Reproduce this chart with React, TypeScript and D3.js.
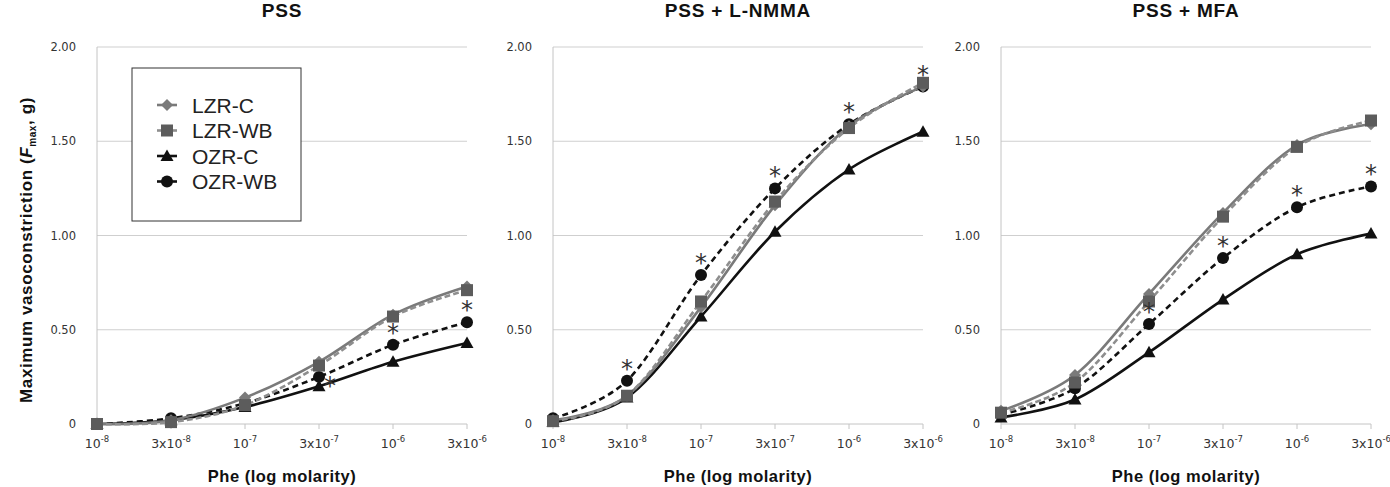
import React from 'react';
import * as d3 from 'd3';

// Phe concentrations (evenly spaced categories)
const categories = ['1e-8', '3e-8', '1e-7', '3e-7', '1e-6', '3e-6'];
const tickMantissa = ['', '3x', '', '3x', '', '3x'];
const tickExponent = ['-8', '-8', '-7', '-7', '-6', '-6'];
const yTicks = [0, 0.5, 1, 1.5, 2];

const panelTitles = ['PSS', 'PSS + L-NMMA', 'PSS + MFA'];

// PSS
const pssLzrC = [0.0, 0.02, 0.14, 0.33, 0.58, 0.73];
const pssLzrWB = [0.0, 0.01, 0.1, 0.31, 0.57, 0.71];
const pssOzrC = [0.0, 0.02, 0.09, 0.2, 0.33, 0.43];
const pssOzrWB = [0.0, 0.03, 0.11, 0.25, 0.42, 0.54];

// PSS + L-NMMA
const nmmaLzrC = [0.02, 0.15, 0.62, 1.16, 1.58, 1.79];
const nmmaLzrWB = [0.015, 0.15, 0.65, 1.18, 1.57, 1.81];
const nmmaOzrC = [0.01, 0.14, 0.57, 1.02, 1.35, 1.55];
const nmmaOzrWB = [0.03, 0.23, 0.79, 1.25, 1.59, 1.79];

// PSS + MFA
const mfaLzrC = [0.07, 0.26, 0.69, 1.12, 1.48, 1.59];
const mfaLzrWB = [0.06, 0.22, 0.65, 1.1, 1.47, 1.61];
const mfaOzrC = [0.035, 0.13, 0.38, 0.66, 0.9, 1.01];
const mfaOzrWB = [0.05, 0.19, 0.53, 0.88, 1.15, 1.26];

// significance (*) on OZR-WB, by category index
const pssSig = [3, 4, 5];
const nmmaSig = [1, 2, 3, 4, 5];
const mfaSig = [2, 3, 4, 5];

const seriesNames = ['LZR-C', 'LZR-WB', 'OZR-C', 'OZR-WB'];

const panels = [
  { title: panelTitles[0], values: [pssLzrC, pssLzrWB, pssOzrC, pssOzrWB], sig: pssSig },
  { title: panelTitles[1], values: [nmmaLzrC, nmmaLzrWB, nmmaOzrC, nmmaOzrWB], sig: nmmaSig },
  { title: panelTitles[2], values: [mfaLzrC, mfaLzrWB, mfaOzrC, mfaOzrWB], sig: mfaSig },
];

const styles = [
  { stroke: '#7a7a7a', dash: 'none', fill: '#7a7a7a', marker: 'diamond' },
  { stroke: '#8e8e8e', dash: '6,3', fill: '#5c5c5c', marker: 'square' },
  { stroke: '#111', dash: 'none', fill: '#111', marker: 'triangle' },
  { stroke: '#111', dash: '6,4', fill: '#111', marker: 'circle' },
];

// draw order: OZR first, then LZR on top
const drawOrder = [2, 3, 0, 1];

const Marker = ({ type, x, y, fill }: { type: string; x: number; y: number; fill: string }) => {
  if (type === 'diamond') {
    return <path d={`M${x},${y - 6}L${x + 6},${y}L${x},${y + 6}L${x - 6},${y}Z`} fill={fill} />;
  }
  if (type === 'square') {
    return <rect x={x - 6} y={y - 6} width={12} height={12} fill={fill} />;
  }
  if (type === 'triangle') {
    return <path d={`M${x},${y - 6.5}L${x + 6.5},${y + 5}L${x - 6.5},${y + 5}Z`} fill={fill} />;
  }
  return <circle cx={x} cy={y} r={6} fill={fill} />;
};

const Panel = ({ panel, left, showLegend }: { panel: any; left: number; showLegend: boolean }) => {
  const plotW = 370;
  const top = 47;
  const bottom = 424;
  const x = d3.scalePoint<string>().domain(categories).range([0, plotW]);
  const y = d3.scaleLinear().domain([0, 2]).range([bottom, top]);
  const line = d3
    .line<number>()
    .x((_, i) => x(categories[i]) as number)
    .y((d) => y(d))
    .curve(d3.curveCardinal);

  return (
    <g transform={`translate(${left},0)`}>
      <text
        x={plotW / 2}
        y={17}
        textAnchor="middle"
        style={{ fontFamily: 'Liberation Sans, Arial, sans-serif', fontWeight: 'bold', fontSize: 19, letterSpacing: 0.8 }}
        fill="#111"
      >
        {panel.title}
      </text>

      {yTicks.map((t) => (
        <g key={t}>
          {t > 0 && <line x1={0} x2={plotW} y1={y(t)} y2={y(t)} stroke="#cfcfcf" strokeWidth={1} />}
          <text
            x={-21}
            y={y(t)}
            dy="0.35em"
            textAnchor="end"
            style={{ fontFamily: 'DejaVu Sans, sans-serif', fontSize: 11.5 }}
            fill="#333"
          >
            {t === 0 ? '0' : d3.format('.2f')(t)}
          </text>
        </g>
      ))}
      <line x1={0} x2={0} y1={top} y2={bottom} stroke="#c4c4c4" strokeWidth={1} />
      <line x1={0} x2={plotW} y1={bottom} y2={bottom} stroke="#c4c4c4" strokeWidth={1} />

      {categories.map((c, i) => (
        <g key={c} transform={`translate(${x(c)},0)`}>
          <line y1={bottom} y2={bottom + 5} stroke="#c4c4c4" />
          <text
            y={bottom + 24}
            textAnchor="middle"
            style={{ fontFamily: 'DejaVu Sans, sans-serif', fontSize: 12.5 }}
            fill="#333"
          >
            {tickMantissa[i]}10
            <tspan dy={-6} style={{ fontSize: 8.5 }}>
              {tickExponent[i]}
            </tspan>
          </text>
        </g>
      ))}

      <text
        x={plotW / 2}
        y={482}
        textAnchor="middle"
        style={{ fontFamily: 'Liberation Sans, Arial, sans-serif', fontWeight: 'bold', fontSize: 16.5, letterSpacing: 0.5 }}
        fill="#111"
      >
        Phe (log molarity)
      </text>

      {drawOrder.map((s) => (
        <path
          key={`l${s}`}
          d={line(panel.values[s]) as string}
          fill="none"
          stroke={styles[s].stroke}
          strokeWidth={2.6}
          strokeDasharray={styles[s].dash}
        />
      ))}
      {drawOrder.map((s) => (
        <g key={`m${s}`}>
          {panel.values[s].map((v: number, i: number) => (
            <Marker key={i} type={styles[s].marker} x={x(categories[i]) as number} y={y(v)} fill={styles[s].fill} />
          ))}
        </g>
      ))}

      {panel.sig.map((i: number) => {
        const v = panel.values[3][i];
        // first PSS asterisk sits to the lower right of its point
        const offRight = panel.title === 'PSS' && i === 3;
        const cx = (x(categories[i]) as number) + (offRight ? 11 : 0);
        const cy = y(v) + (offRight ? 8 : -13);
        return (
          <text
            key={`s${i}`}
            x={cx}
            y={cy + 9}
            textAnchor="middle"
            style={{ fontFamily: 'DejaVu Sans, sans-serif', fontSize: 24 }}
            fill="#333"
          >
            *
          </text>
        );
      })}

      {showLegend && (
        <g transform="translate(35,68)">
          <rect x={0} y={0} width={169} height={153} fill="#fff" stroke="#333" strokeWidth={1} />
          {seriesNames.map((n, i) => (
            <g key={n} transform={`translate(0,${37 + i * 25.5})`}>
              <line x1={25} x2={45} y1={0} y2={0} stroke={styles[i].stroke} strokeWidth={2.6} />
              <Marker type={styles[i].marker} x={35} y={0} fill={styles[i].fill} />
              <text
                x={60}
                y={0}
                dy="0.36em"
                style={{ fontFamily: 'Liberation Sans, Arial, sans-serif', fontSize: 21 }}
                fill="#222"
              >
                {n}
              </text>
            </g>
          ))}
        </g>
      )}
    </g>
  );
};

export default function App() {
  const Width = 1390;
  const Height = 487;
  const lefts = [97, 553, 1001];
  return (
    <svg width={Width} height={Height} style={{ position: 'absolute', left: 0, top: 0, background: '#fff' }}>
      <text
        transform="translate(32,250) rotate(-90)"
        textAnchor="middle"
        style={{ fontFamily: 'Liberation Sans, Arial, sans-serif', fontWeight: 'bold', fontSize: 17, letterSpacing: 0.6 }}
        fill="#111"
      >
        Maximum vasoconstriction (<tspan style={{ fontStyle: 'italic' }}>F</tspan>
        <tspan dy={4} style={{ fontSize: 10 }}>max</tspan>
        <tspan dy={-4}>, g)</tspan>
      </text>
      {panels.map((p, i) => (
        <Panel key={p.title} panel={p} left={lefts[i]} showLegend={i === 0} />
      ))}
    </svg>
  );
}
